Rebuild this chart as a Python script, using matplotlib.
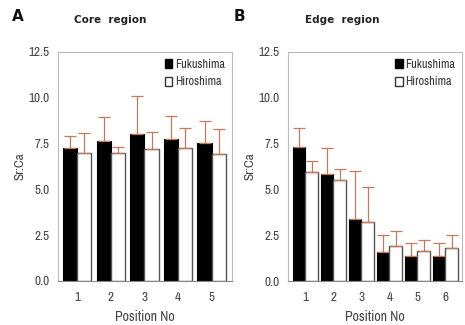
import numpy as np
import matplotlib.pyplot as plt
from matplotlib.patches import Patch
from matplotlib import font_manager

# Core region (panel A)
core_pos = [1, 2, 3, 4, 5]
core_fuku = [7.25, 7.65, 8.0, 7.77, 7.54]
core_fuku_err = [0.68, 1.28, 2.12, 1.22, 1.21]
core_hiro = [6.99, 6.99, 7.19, 7.26, 6.95]
core_hiro_err = [1.1, 0.33, 0.95, 1.08, 1.35]

# Edge region (panel B)
edge_pos = [1, 2, 3, 4, 5, 6]
edge_fuku = [7.33, 5.87, 3.39, 1.58, 1.38, 1.38]
edge_fuku_err = [1.05, 1.4, 2.6, 0.91, 0.7, 0.7]
edge_hiro = [5.93, 5.54, 3.22, 1.9, 1.66, 1.82]
edge_hiro_err = [0.63, 0.56, 1.9, 0.86, 0.61, 0.67]

yticks = [0.0, 2.5, 5.0, 7.5, 10.0, 12.5]

names = sorted({f.name for f in font_manager.fontManager.ttflist})
narrow = [n for n in names if 'Narrow' in n or 'Condensed' in n]
plt.rcParams['font.family'] = narrow[:1] + ['DejaVu Sans']
plt.rcParams['font.stretch'] = 'condensed'
txt = '#444444'
err_col = '#c8785a'

fig = plt.figure(figsize=(4.65, 3.25), dpi=100)
ax1 = fig.add_axes([0.124, 0.136, 0.374, 0.704])
ax2 = fig.add_axes([0.619, 0.135, 0.375, 0.705])


def panel(ax, pos, fuku, fuku_err, hiro, hiro_err, w, xlim):
    x = np.array(pos, dtype=float)
    ekw = dict(ecolor=err_col, elinewidth=0.9, capsize=4, capthick=0.9)
    ax.bar(x - w / 2, fuku, w, color='black', edgecolor='black', linewidth=0.8,
           yerr=[np.zeros(len(x)), fuku_err], error_kw=ekw, zorder=2)
    ax.bar(x + w / 2, hiro, w, color='white', edgecolor='#555555', linewidth=1.0,
           yerr=[np.zeros(len(x)), hiro_err], error_kw=ekw, zorder=2)
    ax.set_xlim(*xlim)
    ax.set_ylim(0, 12.5)
    ax.set_yticks(yticks)
    ax.set_yticklabels([f'{v:.1f}' for v in yticks])
    ax.set_xticks(x)
    ax.set_xticklabels([str(p) for p in pos])
    ax.tick_params(axis='y', length=0, labelsize=9.5, colors=txt, pad=6)
    ax.tick_params(axis='x', length=0, labelsize=9.5, colors=txt, pad=8)
    for s in ['top', 'right', 'left']:
        ax.spines[s].set_color('#bbbbbb')
        ax.spines[s].set_linewidth(0.8)
    ax.spines['bottom'].set_color('#888888')
    ax.set_ylabel('Sr:Ca', fontsize=9.5, color=txt, labelpad=2)
    ax.set_xlabel('Position No', fontsize=10, color=txt, labelpad=5)
    handles = [Patch(facecolor='black', edgecolor='black', label='Fukushima'),
               Patch(facecolor='white', edgecolor='#333333', label='Hiroshima')]
    leg = ax.legend(handles=handles, loc='upper right', frameon=False, fontsize=8.8,
                    handlelength=0.6, handleheight=0.8, handletextpad=0.25,
                    labelspacing=0.55, borderaxespad=0.15)
    for t in leg.get_texts():
        t.set_color('#333333')


panel(ax1, core_pos, core_fuku, core_fuku_err, core_hiro, core_hiro_err,
      0.425, (0.42, 5.59))
panel(ax2, edge_pos, edge_fuku, edge_fuku_err, edge_hiro, edge_hiro_err,
      0.436, (0.37, 6.6))

fig.text(0.026, 0.95, 'A', fontsize=11, fontweight='bold', family='DejaVu Sans',
         stretch='normal', va='center', ha='left', color='#111111')
fig.text(0.159, 0.937, 'Core  region', fontsize=7.5, fontweight='bold', family='DejaVu Sans',
         stretch='normal', va='center', ha='left', color='#222222')
fig.text(0.503, 0.95, 'B', fontsize=11, fontweight='bold', family='DejaVu Sans',
         stretch='normal', va='center', ha='left', color='#111111')
fig.text(0.656, 0.937, 'Edge  region', fontsize=7.5, fontweight='bold', family='DejaVu Sans',
         stretch='normal', va='center', ha='left', color='#222222')

fig.savefig('out.png', dpi=100)
